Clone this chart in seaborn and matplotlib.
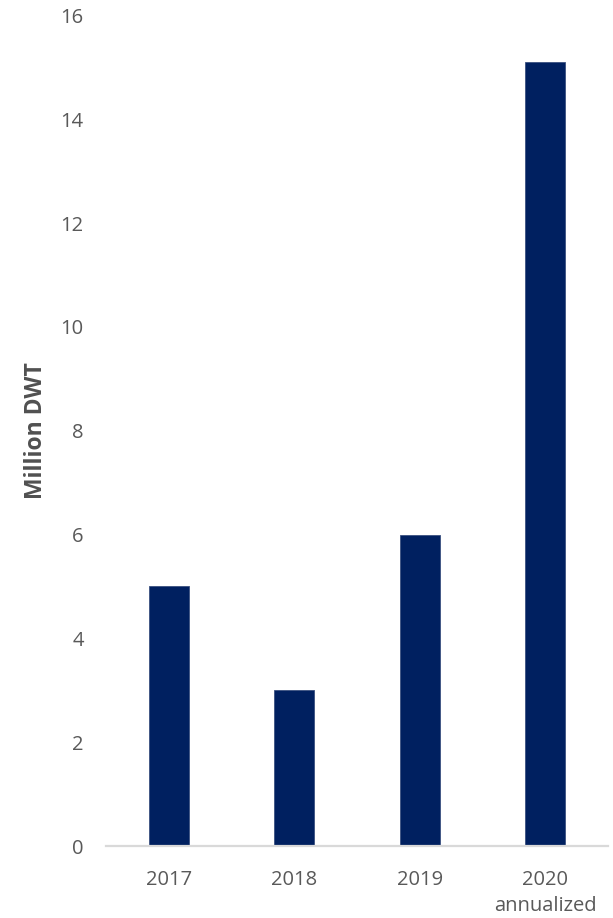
import matplotlib
matplotlib.use("Agg")
import matplotlib.pyplot as plt
import seaborn as sns
import pandas as pd

categories = ["2017", "2018", "2019", "2020\nannualized"]
values = [5.0, 3.0, 6.0, 15.1]
y_ticks = [0, 2, 4, 6, 8, 10, 12, 14, 16]

sns.set_theme(style="white")
plt.rcParams["font.family"] = ["Open Sans", "DejaVu Sans"]

df = pd.DataFrame({"year": categories, "dwt": values})

fig = plt.figure(figsize=(6.13, 9.18), dpi=100)
ax = fig.add_axes([0.1729, 0.0784, 0.8189, 0.9047])

sns.barplot(data=df, x="year", y="dwt", color="#002060", width=0.32,
            saturation=1, edgecolor="#3a5080", linewidth=0.6, ax=ax)

ax.set_ylim(0, 16)
ax.set_yticks(y_ticks)
ax.set_yticklabels([str(t) for t in y_ticks])
ax.set_xlim(-0.5, len(categories) - 0.5)

for side in ["top", "right", "left"]:
    ax.spines[side].set_visible(False)
ax.spines["bottom"].set_color("#D9D9D9")
ax.spines["bottom"].set_linewidth(1.6)

ax.tick_params(axis="both", length=0, labelsize=14.5, labelcolor="#595959")
ax.tick_params(axis="y", pad=16)
ax.tick_params(axis="x", pad=17)
for lbl in ax.get_xticklabels():
    lbl.set_linespacing(1.4)

ax.set_xlabel("")
ax.set_ylabel("Million DWT", fontsize=16.5, fontweight="bold", color="#505050", labelpad=9)

fig.savefig("out.png", dpi=100, facecolor="white")
